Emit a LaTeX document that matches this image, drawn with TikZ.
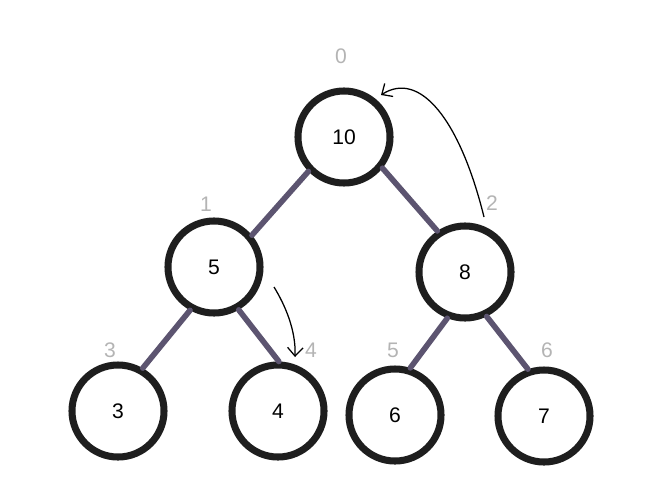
\documentclass[tikz,border=0pt]{standalone}
\usepackage{fontspec}
\setmainfont{Liberation Sans}
\usetikzlibrary{arrows.meta}
\definecolor{edgecol}{HTML}{5C5470}
\definecolor{ringcol}{HTML}{1E1E1E}
\definecolor{idxcol}{HTML}{B4B4B4}
\begin{document}
\begin{tikzpicture}[x=0.025cm,y=-0.025cm,
    heapnode/.style={circle,draw=ringcol,line width=5pt,minimum size=2.3cm,
      inner sep=0pt,font=\fontsize{15}{18}\selectfont},
    idx/.style={text=idxcol,font=\fontsize{15}{18}\selectfont},
    link/.style={edgecol,line width=4pt,line cap=round},
    swap/.style={line width=0.9pt,-{Straight Barb[length=6pt,width=11pt]}}]
  \useasboundingbox (0,0) rectangle (662,493);
  % heap nodes, value / position
  \foreach \v/\x/\y in {10/344/137,5/214/267,8/465/272,
                        3/118/411,4/278/411,6/395/415,7/544/416}
    \node[heapnode] (n\v) at (\x,\y) {\v};
  % array indices
  \foreach \i/\x/\y in {0/341/56,1/206/204,2/492/203,
                        3/110/350,4/311/350,5/393/350,6/547/350}
    \node[idx] (i\i) at (\x,\y) {\i};
  % tree edges, parent / angle / child / angle
  \foreach \a/\p/\b/\q in {10/224/5/40,10/321/8/124,5/241/3/60,
                           5/300/4/89,8/249/6/72,8/296/7/109}
    \draw[link] (n\a.\p) -- (n\b.\q);
  % swap arrows
  \coordinate (up0) at (484,217);
  \coordinate (up1) at (381,95);
  \coordinate (dn0) at (274,287);
  \coordinate (dn1) at (295,357);
  \draw[swap] (up0) .. controls (460,120) and (420,70) .. (up1);
  \draw[swap] (dn0) .. controls (285,305) and (296,330) .. (dn1);
\end{tikzpicture}
\end{document}
